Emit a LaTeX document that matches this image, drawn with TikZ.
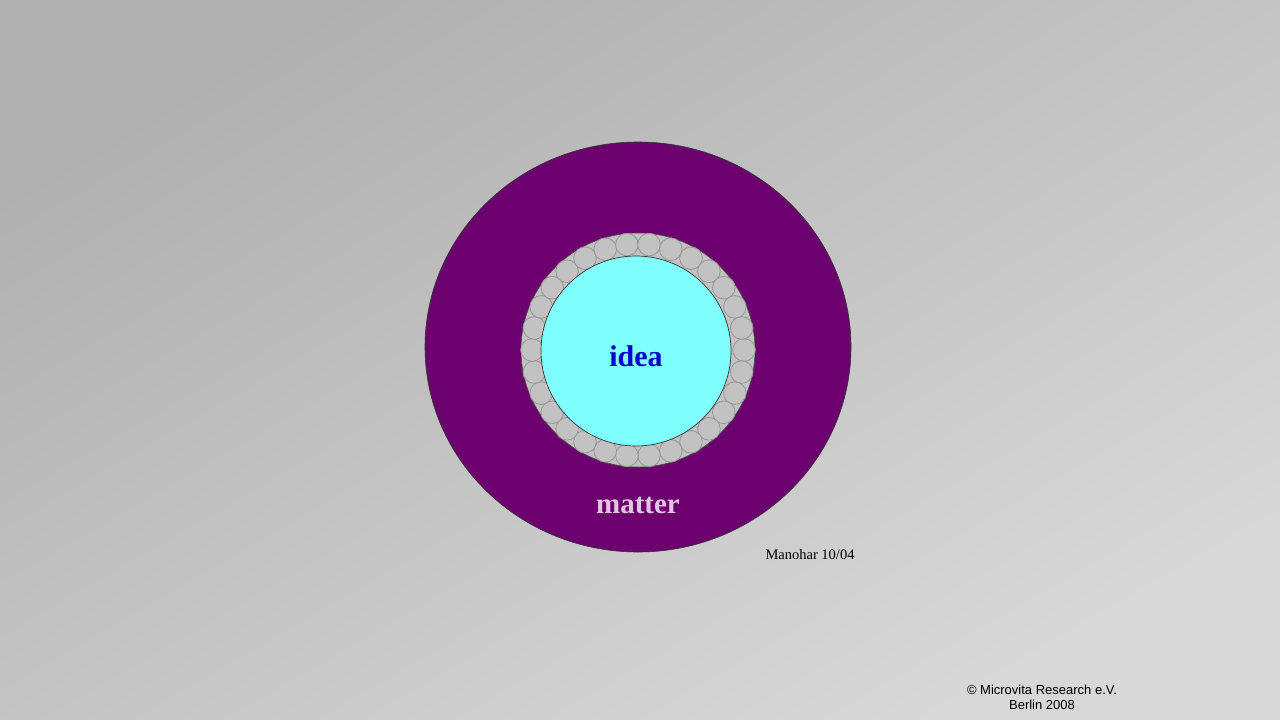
\documentclass[tikz,border=0pt]{standalone}
\usepackage{fontspec}
\setmainfont{Liberation Serif}
\newfontfamily\arialfont{Liberation Sans}
\definecolor{bgA}{RGB}{176,176,176}
\definecolor{bgB}{RGB}{216,216,216}
\definecolor{mattercol}{RGB}{107,0,110}
\definecolor{ideacol}{RGB}{128,255,255}
\definecolor{ringcol}{RGB}{194,194,194}
\definecolor{beadline}{RGB}{150,150,150}
\definecolor{ideatext}{RGB}{0,0,205}
\definecolor{mattertext}{RGB}{228,196,228}
\begin{document}
\begin{tikzpicture}[x=1pt,y=-1pt,
  bead/.style={draw=beadline,line width=0.8pt,fill=ringcol},
  lbl/.style={inner sep=0pt,anchor=center}]
\useasboundingbox (0,0) rectangle (1280,720);
\shade[shading=axis,top color=bgA,bottom color=bgB,shading angle=30] (0,0) rectangle (1280,720);
% matter
\fill[mattercol,draw=black!80,line width=0.6pt] (638,347) ellipse [x radius=213,y radius=205];
% ring
\fill[ringcol,draw=black!70,line width=0.6pt] (638,350) circle [radius=117];
\foreach \a in {0,12,...,348} {
  \draw[bead] (638,350) ++(\a:106) circle [radius=11.3];
}
% idea
\fill[ideacol,draw=black!80,line width=0.7pt] (636,351) circle [radius=95];
\node[lbl,text=ideatext,font=\fontsize{30}{32}\selectfont\bfseries] (idea) at (636,356) {idea};
\node[lbl,text=mattertext,font=\fontsize{29}{31}\selectfont\bfseries] (matter) at (638,505) {matter};
\node[lbl,font=\fontsize{14.5}{16}\selectfont] (author) at (810,555) {Manohar 10/04};
\node[lbl,align=center,font=\arialfont\fontsize{13}{15.5}\selectfont] (copy) at (1042,697.5) {© Microvita Research e.V.\\Berlin 2008};
\end{tikzpicture}
\end{document}
